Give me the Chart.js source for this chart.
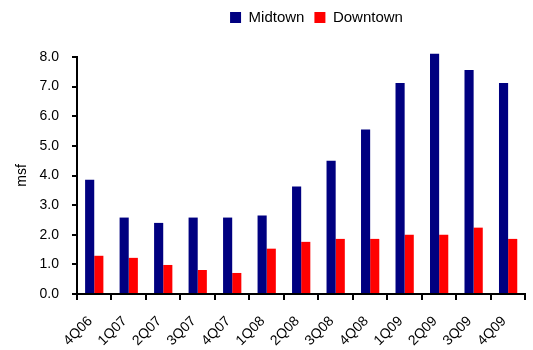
<!DOCTYPE html>
<html>
<head>
<meta charset="utf-8">
<script src="https://cdn.jsdelivr.net/npm/chart.js@4"></script>
<style>
html,body{margin:0;padding:0;background:#fff;}
#wrap{width:533px;height:350px;position:relative;}
</style>
</head>
<body>
<div id="wrap"><canvas id="c" width="533" height="350"></canvas></div>
<script>
const categories = ["4Q06","1Q07","2Q07","3Q07","4Q07","1Q08","2Q08","3Q08","4Q08","1Q09","2Q09","3Q09","4Q09"];
const midtown = [3.86,2.58,2.4,2.58,2.58,2.65,3.63,4.5,5.55,7.12,8.11,7.56,7.12];
const downtown = [1.29,1.22,0.98,0.81,0.71,1.53,1.76,1.86,1.86,2.0,2.0,2.24,1.86];
const yTicks = [0,1,2,3,4,5,6,7,8];

Chart.defaults.font.family = "'Liberation Sans', Arial, sans-serif";
Chart.defaults.font.size = 14;
Chart.defaults.color = "#000";

const legendTweak = {
  id: 'legendTweak',
  beforeLayout(chart) {
    const lg = chart.legend;
    if (lg && !lg._tweaked) {
      const fit = lg.fit;
      lg.fit = function() { fit.call(this); this.height = 57; };
      lg._tweaked = true;
    }
  },
  afterLayout(chart) {
    const lg = chart.legend;
    if (lg) { lg.left += 50; lg.right += 50; }
  }
};

new Chart(document.getElementById('c'), {
  type: 'bar',
  data: {
    labels: categories,
    datasets: [
      {label: 'Midtown', data: midtown, backgroundColor: '#000080', barPercentage: 1, categoryPercentage: 0.53, clip: false},
      {label: 'Downtown', data: downtown, backgroundColor: '#ff0000', barPercentage: 1, categoryPercentage: 0.53, clip: false}
    ]
  },
  plugins: [legendTweak],
  options: {
    responsive: false,
    animation: false,
    devicePixelRatio: 1,
    layout: {padding: {left: 0, right: 0, top: 0, bottom: 0}},
    plugins: {
      legend: {
        position: 'top',
        labels: {boxWidth: 11, boxHeight: 11, padding: 10, font: {size: 15}, color: '#000'},
        onClick: null
      },
      tooltip: {enabled: false}
    },
    scales: {
      x: {
        offset: true,
        afterFit: (s) => { s.height = 56; },
        grid: {offset: true, drawOnChartArea: false, drawTicks: true, tickLength: 6, color: '#000', lineWidth: 2},
        border: {color: '#000', width: 2},
        ticks: {autoSkip: false, maxRotation: 45, minRotation: 45, padding: 13, labelOffset: -4, font: {size: 14}}
      },
      y: {
        min: 0, max: 8,
        afterFit: (s) => { s.width = 77; },
        afterBuildTicks: (axis) => { axis.ticks = yTicks.map(v => ({value: v})); },
        grid: {drawOnChartArea: false, drawTicks: true, tickLength: 5, color: '#000', lineWidth: 2},
        border: {color: '#000', width: 2},
        ticks: {callback: v => v.toFixed(1), padding: 13, font: {size: 14}},
        title: {display: true, text: 'msf', font: {size: 14}, padding: {top: 14, bottom: 0}}
      }
    }
  }
});
</script>
</body>
</html>
